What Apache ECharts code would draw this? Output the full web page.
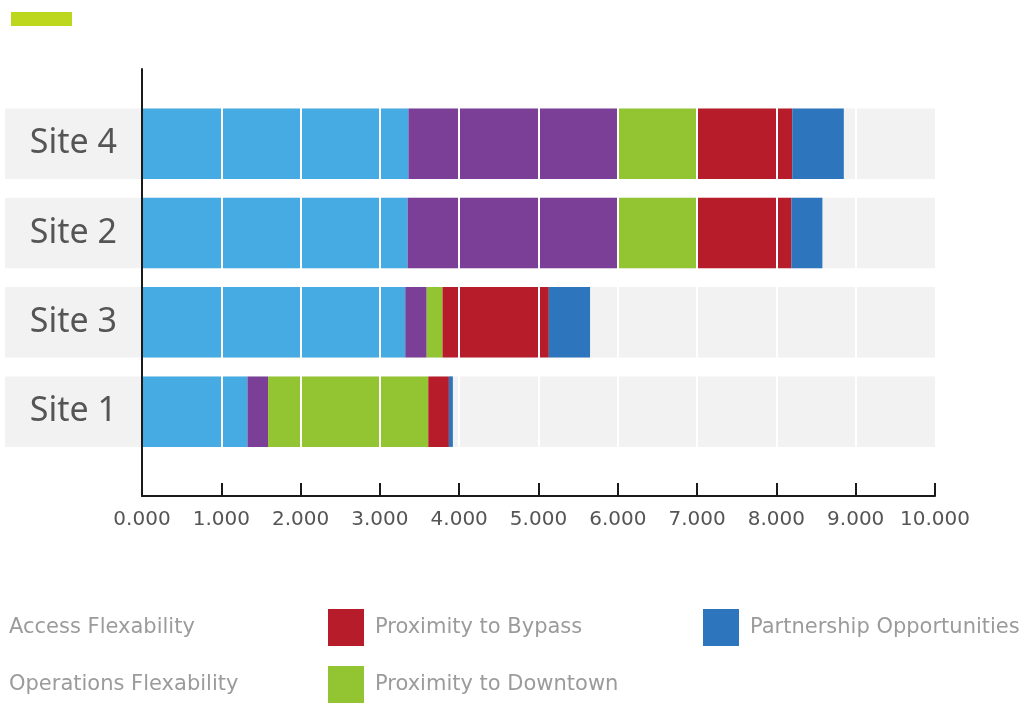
<!DOCTYPE html>
<html>
<head>
<meta charset="utf-8">
<script src="https://cdn.jsdelivr.net/npm/echarts@6/dist/echarts.min.js"></script>
<style>
    html, body { margin: 0; padding: 0; background: #fff; }
    #main { width: 1030px; height: 703px; }
</style>
</head>
<body>
<div id="main"></div>
<script>
// categories, bottom to top
const sites = ['Site 1', 'Site 3', 'Site 2', 'Site 4']

// stacked values per factor (same order as sites)
const accessFlex      = [1.33, 3.32, 3.35, 3.36]
const operationsFlex  = [0.26, 0.27, 2.64, 2.63]
const downtown        = [2.02, 0.20, 1.00, 1.01]
const bypass          = [0.26, 1.34, 1.20, 1.20]
const partnership     = [0.05, 0.52, 0.39, 0.65]

// x axis ticks
const xMin = 0
const xMax = 10
const xStep = 1

const colors = {
    access: '#45abe2',
    operations: '#7b3f98',
    downtown: '#93c432',
    bypass: '#b71c2b',
    partnership: '#2d76bd'
}

const font = '"Noto Sans", sans-serif'
const wideFont = '"DejaVu Sans", sans-serif'
const barW = 70.5

let chart = echarts.init(document.getElementById('main'))

// 一个图例一个组件，好摆位置
const legendItem = (name, left, top, hasIcon) => ({
    data: [name],
    left: left,
    top: top,
    padding: 0,
    icon: hasIcon ? 'rect' : 'none',
    itemWidth: hasIcon ? 36 : 1,
    itemHeight: 37,
    selectedMode: false,
    textStyle: {
        color: '#9b9b9b',
        fontSize: 21,
        fontFamily: wideFont,
        padding: [3, 0, 0, hasIcon ? 6 : 0]
    }
})

const stackBar = (name, data, color, extra) => Object.assign({
    name: name,
    type: 'bar',
    stack: 'total',
    xAxisIndex: 1,
    yAxisIndex: 1,
    barWidth: barW,
    itemStyle: { color: color },
    data: data
}, extra || {})

let options = {
    animation: false,
    graphic: [{
        type: 'rect',
        left: 11, top: 12,
        shape: { width: 61, height: 14 },
        style: { fill: '#bdd71f' }
    }],
    legend: [
        legendItem('Access Flexability', 3, 609, false),
        legendItem('Operations Flexability', 3, 666, false),
        legendItem('Proximity to Bypass', 328, 609, true),
        legendItem('Proximity to Downtown', 328, 666, true),
        legendItem('Partnership Opportunities', 703, 609, true)
    ],
    grid: [
        // 左边灰色标签底
        { left: 5, width: 137, top: 99, height: 357.3 },
        // 条形图
        { left: 142, right: 95, top: 99, height: 357.3 },
        // 坐标轴
        { left: 142, right: 95, top: 69, bottom: 207 }
    ],
    xAxis: [
        { gridIndex: 0, type: 'value', min: 0, max: 1, show: false },
        {
            gridIndex: 1, type: 'value', min: xMin, max: xMax, interval: xStep,
            z: 3,
            axisLine: { show: false }, axisTick: { show: false }, axisLabel: { show: false },
            splitLine: { show: true, showMinLine: false, showMaxLine: false, lineStyle: { color: '#ffffff', width: 2 } }
        },
        {
            gridIndex: 2, type: 'value', min: xMin, max: xMax, interval: xStep,
            z: 6,
            axisLine: { show: true, lineStyle: { color: '#1a1a1a', width: 2 } },
            axisTick: { show: true, inside: true, length: 13, lineStyle: { color: '#1a1a1a', width: 2 } },
            axisLabel: {
                color: '#555555', fontSize: 20, fontFamily: wideFont, margin: 14,
                formatter: v => v.toFixed(3)
            },
            splitLine: { show: false }
        }
    ],
    yAxis: [
        { gridIndex: 0, type: 'category', data: sites, show: false },
        {
            gridIndex: 1, type: 'category', data: sites,
            z: 4,
            axisLine: { show: false }, axisTick: { show: false },
            axisLabel: { color: '#555555', fontSize: 34, fontFamily: font, margin: 25 }
        },
        {
            gridIndex: 2, type: 'value', min: 0, max: 1,
            z: 6,
            axisLine: { show: true, lineStyle: { color: '#1a1a1a', width: 2 } },
            axisTick: { show: false }, axisLabel: { show: false }, splitLine: { show: false }
        }
    ],
    series: [
        {
            name: 'bg', type: 'bar', xAxisIndex: 0, yAxisIndex: 0,
            barWidth: barW, silent: true,
            itemStyle: { color: '#f2f2f2' },
            data: sites.map(() => 1)
        },
        stackBar('Access Flexability', accessFlex, colors.access, {
            showBackground: true,
            backgroundStyle: { color: '#f2f2f2' }
        }),
        stackBar('Operations Flexability', operationsFlex, colors.operations),
        stackBar('Proximity to Downtown', downtown, colors.downtown),
        stackBar('Proximity to Bypass', bypass, colors.bypass),
        stackBar('Partnership Opportunities', partnership, colors.partnership)
    ]
}

chart.setOption(options)
</script>
</body>
</html>
